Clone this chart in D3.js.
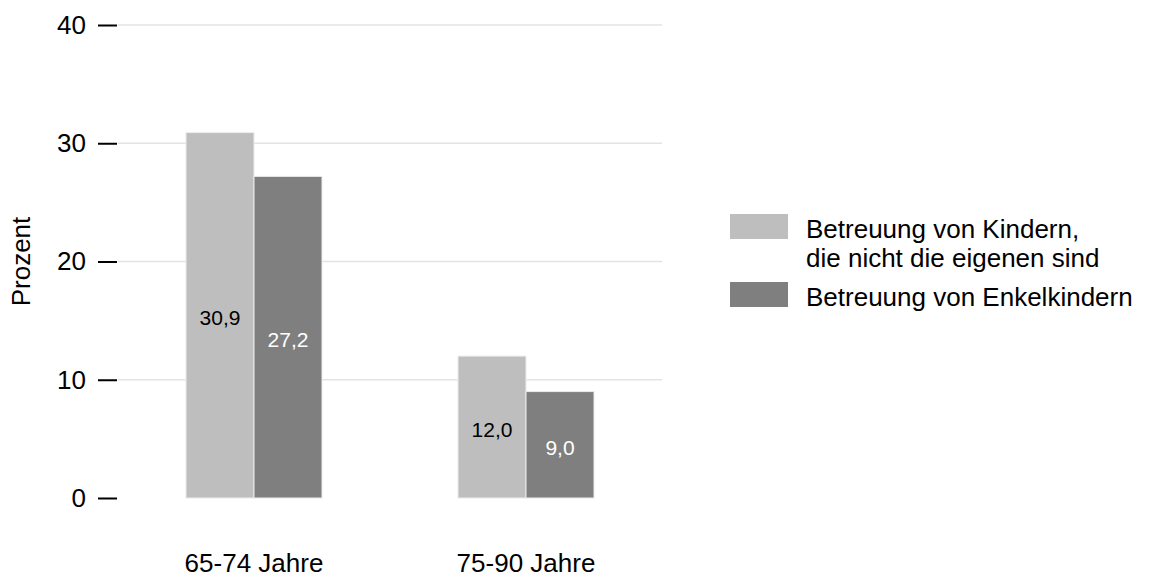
<!DOCTYPE html>
<html>
<head>
<meta charset="utf-8">
<script src="https://cdn.jsdelivr.net/npm/d3@7"></script>
<style>
  html, body { margin: 0; padding: 0; background: #fff; }
  svg { display: block; font-family: "Liberation Sans", Arial, Helvetica, sans-serif; }
</style>
</head>
<body>
<svg id="chart" width="1150" height="577"></svg>
<script>
// Data
const categories = ["65-74 Jahre", "75-90 Jahre"];
const seriesNames = ["Betreuung von Kindern,\ndie nicht die eigenen sind", "Betreuung von Enkelkindern"];
const seriesKindern = [30.9, 12.0];  // light series per category
const seriesEnkel = [27.2, 9.0];     // dark series per category
const yTicks = [0, 10, 20, 30, 40];
const yTitle = "Prozent";

const colors = ["#bebebe", "#7f7f7f"];
const labelColors = ["#000000", "#ffffff"];

const svg = d3.select("#chart");
const margin = { left: 118, right: 488, top: 25, bottom: 79 };
const W = 1150, H = 577;

const x0 = d3.scaleBand().domain(categories)
  .range([margin.left, W - margin.right])
  .paddingInner(0.5).paddingOuter(0.25);
const x1 = d3.scaleBand().domain([0, 1]).range([0, x0.bandwidth()]).padding(0);
const y = d3.scaleLinear().domain([0, 40]).range([H - margin.bottom, margin.top]);

// Gridlines
svg.append("g").selectAll("line").data(yTicks.filter(t => t > 0)).join("line")
  .attr("x1", margin.left).attr("x2", W - margin.right)
  .attr("y1", d => y(d)).attr("y2", d => y(d))
  .attr("stroke", "#e3e3e3").attr("stroke-width", 1.5);

// Y axis
const yAxis = d3.axisLeft(y).tickValues(yTicks).tickSize(19).tickPadding(12).tickFormat(d3.format("d"));
const ya = svg.append("g").attr("transform", `translate(${margin.left - 1},0)`).call(yAxis);
ya.select(".domain").remove();
ya.selectAll(".tick line").attr("stroke", "#000").attr("stroke-width", 2);
ya.selectAll(".tick text").attr("font-size", 26).attr("fill", "#000")
  .attr("font-family", "Liberation Sans, Arial, sans-serif");

// Y title
svg.append("text")
  .attr("transform", `translate(30,${(y(0) + y(40)) / 2}) rotate(-90)`)
  .attr("text-anchor", "middle")
  .attr("font-size", 26).attr("fill", "#000")
  .text(yTitle);

// Bars
const rows = categories.map((c, i) => ({ cat: c, vals: [seriesKindern[i], seriesEnkel[i]] }));
const groups = svg.append("g").selectAll("g").data(rows).join("g")
  .attr("transform", d => `translate(${x0(d.cat)},0)`);

groups.selectAll("rect").data(d => d.vals.map((v, k) => ({ v, k }))).join("rect")
  .attr("x", d => x1(d.k))
  .attr("width", x1.bandwidth())
  .attr("y", d => y(d.v))
  .attr("height", d => y(0) - y(d.v))
  .attr("fill", d => colors[d.k])
  .attr("stroke", "#ececec").attr("stroke-width", 1);

groups.selectAll("text").data(d => d.vals.map((v, k) => ({ v, k }))).join("text")
  .attr("x", d => x1(d.k) + x1.bandwidth() / 2)
  .attr("y", d => (y(d.v) + y(0)) / 2)
  .attr("dy", "0.47em")
  .attr("text-anchor", "middle")
  .attr("font-size", 21)
  .attr("fill", d => labelColors[d.k])
  .text(d => d3.format(".1f")(d.v).replace(".", ","));

// X labels
svg.append("g").selectAll("text").data(categories).join("text")
  .attr("x", d => x0(d) + x0.bandwidth() / 2)
  .attr("y", 572)
  .attr("text-anchor", "middle")
  .attr("font-size", 26).attr("fill", "#000")
  .text(d => d);

// Legend
const legendTop = [214, 282];
const lg = svg.append("g");
seriesNames.forEach((name, k) => {
  lg.append("rect").attr("x", 730).attr("y", legendTop[k]).attr("width", 58).attr("height", 25)
    .attr("fill", colors[k]);
  const t = lg.append("text").attr("x", 806).attr("y", legendTop[k] + 24)
    .attr("font-size", 26).attr("fill", "#000");
  name.split("\n").forEach((line, j) => {
    t.append("tspan").attr("x", 806).attr("dy", j === 0 ? 0 : 28.5).text(line);
  });
});
</script>
</body>
</html>
